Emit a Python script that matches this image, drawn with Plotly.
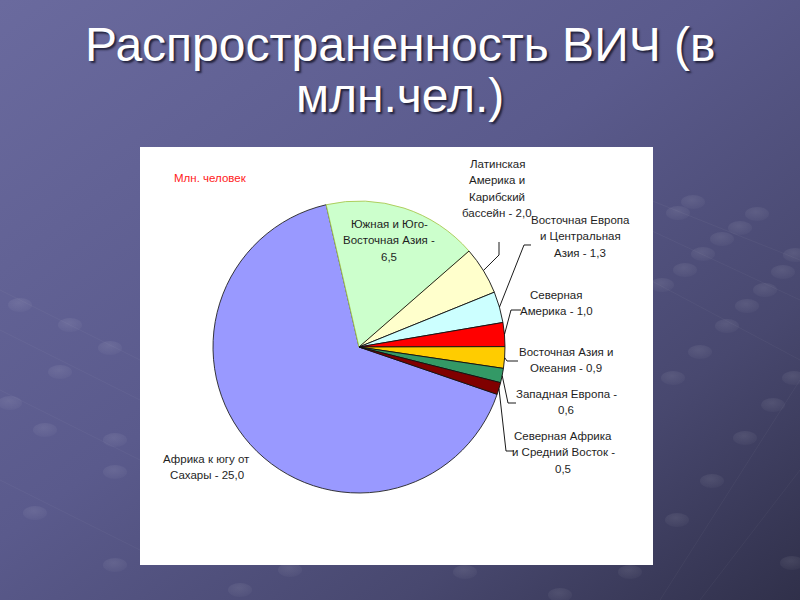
import base64
import math
import plotly.graph_objects as go

# ---------------- data ----------------
categories = [
    "Африка к югу от\nСахары",
    "Южная и Юго-\nВосточная Азия",
    "Латинская\nАмерика и\nКарибский\nбассейн",
    "Восточная Европа\nи Центральная\nАзия",
    "Северная\nАмерика",
    "Восточная Азия и\nОкеания",
    "Западная Европа",
    "Северная Африка\nи Средний Восток",
]
values = [25.0, 6.5, 2.0, 1.3, 1.0, 0.9, 0.6, 0.5]
value_separators = [" - ", " -\n", " - ", " - ", " - ", " - ", " -\n", " -\n"]
unit_label = "Млн. человек"
title_lines = ["Распространенность ВИЧ (в", "млн.чел.)"]

# ---------------- style / layout ----------------
W, H = 800, 600
slice_colors = ["#9999FF", "#CCFFCC", "#FFFFCC", "#CCFFFF", "#FF0000", "#FFCC00", "#339966", "#800000"]
slice_line_colors = ["#222222", "#a8c850", "#111111", "#111111", "#111111", "#111111", "#111111", "#111111"]
CX, CY, R = 359, 347, 146           # pie centre / radius in pixels
SECOND_START = -13                  # angle (deg, clockwise from top) where 2nd slice begins
PANEL = (140, 147, 653, 565)

# label anchors: (centre x, first line centre y) in pixels
label_pos = [(207, 459), (389, 224), (497, 164), (580, 220), (556, 295), (566, 352), (566, 394), (563, 436)]
LINE_STEP = 16.4
# leader lines: elbow and end points (pixels), None = no leader
leader_pts = [None, None,
              [(499, 255), (499, 242)],
              [(524, 245), (531, 245)],
              [(511, 310), (521, 310)],
              [(507, 361), (518, 361)],
              [(508, 403), (516, 403)],
              [(506, 451), (514, 451)]]

def px(x):
    return x / W

def py(y):
    return 1 - y / H

total = sum(values)
rotation = SECOND_START - 360 * values[0] / total + 360

# ---------------- background (svg image) ----------------
bubbles = [(20, 305), (70, 325), (110, 348), (60, 372), (10, 403), (45, 430), (115, 440), (115, 472),
           (35, 513), (115, 565), (693, 202), (678, 213), (757, 214), (740, 228), (722, 239), (703, 254),
           (795, 255), (685, 270), (783, 272), (662, 285), (765, 290), (747, 306), (727, 326), (700, 352),
           (673, 378), (794, 378), (773, 405), (745, 438), (712, 481), (677, 520), (792, 563),
           (290, 570), (465, 572), (630, 572), (240, 590), (560, 595)]
parts = [
    f'<svg xmlns="http://www.w3.org/2000/svg" width="{W}" height="{H}" viewBox="0 0 {W} {H}">',
    '<defs><linearGradient id="g" x1="0" y1="0" x2="1" y2="1">'
    '<stop offset="0" stop-color="#6a6a9e"/><stop offset="0.45" stop-color="#5a5a8c"/>'
    '<stop offset="0.75" stop-color="#48486f"/><stop offset="1" stop-color="#30304a"/>'
    '</linearGradient>'
    '<radialGradient id="b" cx="0.45" cy="0.35" r="0.7">'
    '<stop offset="0" stop-color="#ffffff" stop-opacity="0.09"/>'
    '<stop offset="1" stop-color="#ffffff" stop-opacity="0.02"/></radialGradient></defs>',
    f'<rect width="{W}" height="{H}" fill="url(#g)"/>',
    '<g stroke="#ffffff" stroke-opacity="0.04" stroke-width="1" fill="none">'
    '<path d="M0 290 L160 370"/><path d="M0 330 L160 410"/><path d="M0 390 L160 470"/>'
    '<path d="M0 480 L160 560"/><path d="M650 200 L800 260"/><path d="M650 230 L800 300"/>'
    '<path d="M650 280 L800 360"/><path d="M660 600 L800 380"/><path d="M700 600 L800 470"/></g>',
]
for bx, by in bubbles:
    parts.append(f'<ellipse cx="{bx}" cy="{by}" rx="12" ry="7" fill="url(#b)"/>')
x0, y0, x1, y1 = PANEL
parts.append(f'<rect x="{x0}" y="{y0}" width="{x1 - x0}" height="{y1 - y0}" fill="#ffffff"/>')
parts.append('</svg>')
svg_uri = "data:image/svg+xml;base64," + base64.b64encode("".join(parts).encode("utf-8")).decode("ascii")

# ---------------- figure ----------------
fig = go.Figure()
fig.add_trace(go.Pie(
    labels=[c.replace("\n", " ") for c in categories],
    values=values,
    sort=False,
    direction="clockwise",
    rotation=rotation,
    textinfo="none",
    marker=dict(colors=slice_colors, line=dict(color=slice_line_colors, width=0.9)),
    domain=dict(x=[px(CX - R), px(CX + R)], y=[py(CY + R), py(CY - R)]),
    showlegend=False,
    hoverinfo="label+value",
))

annotations = []
shapes = []
label_font = dict(family="Liberation Sans, Arial, sans-serif", size=11.5, color="#1e1e1e")

cum = 0.0
for i, (cat, v) in enumerate(zip(categories, values)):
    start = rotation + 360 * cum / total
    mid = math.radians(start + 180 * v / total)
    cum += v
    text = cat + value_separators[i] + f"{v:.1f}".replace(".", ",")
    lx, ly = label_pos[i]
    for k, line in enumerate(text.split("\n")):
        annotations.append(dict(
            x=px(lx), y=py(ly + k * LINE_STEP), xref="paper", yref="paper",
            text=line, showarrow=False, xanchor="center", yanchor="middle",
            font=label_font,
        ))
    if leader_pts[i]:
        sx, sy = CX + R * math.sin(mid), CY - R * math.cos(mid)
        pts = [(sx, sy)] + leader_pts[i]
        path = "M " + " L ".join(f"{px(a):.5f} {py(b):.5f}" for a, b in pts)
        shapes.append(dict(type="path", path=path, xref="paper", yref="paper",
                           line=dict(color="#000000", width=0.9), layer="above"))

annotations.append(dict(
    x=px(172), y=py(178), xref="paper", yref="paper", text=unit_label, showarrow=False,
    xanchor="left", yanchor="middle",
    font=dict(family="Liberation Sans, Arial, sans-serif", size=11.5, color="#ff2020"),
))

title_y = [44, 95]
for t, ty in zip(title_lines, title_y):
    annotations.append(dict(
        x=0.5, y=py(ty), xref="paper", yref="paper", text=t, showarrow=False,
        xanchor="center", yanchor="middle",
        font=dict(family="Liberation Sans, Arial, sans-serif", size=48, color="#ffffff",
                  shadow="2px 2px 2px rgba(20,20,40,0.8)"),
    ))

fig.update_layout(
    width=W, height=H,
    margin=dict(l=0, r=0, t=0, b=0),
    paper_bgcolor="#55558a",
    plot_bgcolor="rgba(0,0,0,0)",
    images=[dict(source=svg_uri, xref="paper", yref="paper", x=0, y=1, sizex=1, sizey=1,
                 xanchor="left", yanchor="top", sizing="stretch", layer="below")],
    annotations=annotations,
    shapes=shapes,
)

fig.write_html("out.html", config={"displayModeBar": False},
               post_script="document.body.style.margin='0';document.body.style.overflow='hidden';")
